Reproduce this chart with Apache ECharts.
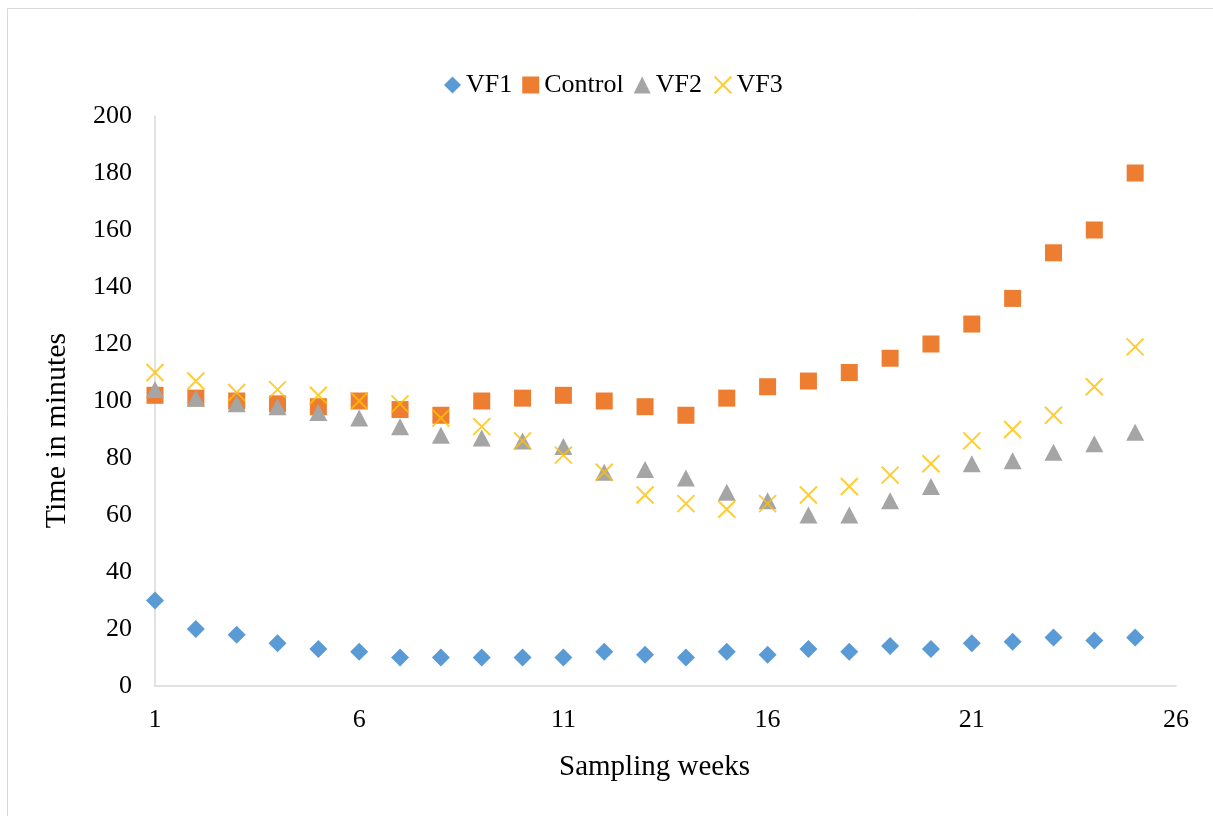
<!DOCTYPE html>
<html>
<head>
<meta charset="utf-8">
<script src="https://cdn.jsdelivr.net/npm/echarts@6/dist/echarts.min.js"></script>
<style>
  html, body { margin: 0; padding: 0; background: #fff; }
  #chart { width: 1213px; height: 816px; }
</style>
</head>
<body>
<div id="chart"></div>
<script>
// Sampling weeks 1..25
const weeks = [1,2,3,4,5,6,7,8,9,10,11,12,13,14,15,16,17,18,19,20,21,22,23,24,25];

// Time in minutes per series
const vf1     = [30,20,18,15,13,12,10,10,10,10,10,12,11,10,12,11,13,12,14,13,15,15.5,17,16,17];
const control = [102,101,100,99,98,100,97,95,100,101,102,100,98,95,101,105,107,110,115,120,127,136,152,160,180];
const vf2     = [104,101,99,98,96,94,91,88,87,86,84,75,76,73,68,65,60,60,65,70,78,79,82,85,89];
const vf3     = [110,107,103,104,102,100,99,94,91,86,81,75,67,64,62,64,67,70,74,78,86,90,95,105,119];

const seriesNames = ['VF1', 'Control', 'VF2', 'VF3'];
const seriesData = [vf1, control, vf2, vf3];
const seriesColors = ['#5B9BD5', '#ED7D31', '#A5A5A5', '#FFC000'];

const xTitle = 'Sampling weeks';
const yTitle = 'Time in minutes';

const FONT = '"Liberation Serif", "Times New Roman", serif';
const crossPath = 'path://M0,0L20,20M20,0L0,20';

function pairs(values) {
  return weeks.map((w, i) => [w, values[i]]);
}

const series = seriesNames.map((name, k) => {
  const base = {
    name: name,
    type: 'scatter',
    data: pairs(seriesData[k]),
    symbolSize: 17,
    itemStyle: { color: seriesColors[k], opacity: 1 }
  };
  if (k === 0) { base.symbol = 'diamond'; base.symbolSize = 18; }
  if (k === 1) { base.symbol = 'rect'; base.symbolSize = 17; }
  if (k === 2) { base.symbol = 'triangle'; base.symbolSize = [18, 17]; }
  if (k === 3) {
    base.symbol = crossPath;
    base.symbolSize = 17;
    base.itemStyle = { color: 'none', borderColor: seriesColors[k], borderWidth: 2 };
  }
  return base;
});

const chart = echarts.init(document.getElementById('chart'), null, { renderer: 'canvas' });
chart.setOption({
  backgroundColor: '#fff',
  animation: false,
  textStyle: { fontFamily: FONT },
  graphic: [
    {
      type: 'rect',
      shape: { x: 7.5, y: 8.5, width: 1230, height: 830 },
      style: { fill: 'none', stroke: '#D9D9D9', lineWidth: 1 },
      silent: true
    },
    {
      type: 'text',
      x: 654.5, y: 767,
      style: { text: xTitle, font: '29px ' + FONT, fill: '#000', textAlign: 'center', textVerticalAlign: 'middle' },
      silent: true
    },
    {
      type: 'text',
      x: 57, y: 430.5,
      rotation: Math.PI / 2,
      style: { text: yTitle, font: '30px ' + FONT, fill: '#000', textAlign: 'center', textVerticalAlign: 'middle' },
      silent: true
    }
  ],
  legend: {
    top: 67,
    left: 439,
    itemWidth: 17,
    itemHeight: 17,
    itemGap: 10,
    textStyle: { fontFamily: FONT, fontSize: 26, color: '#000' },
    data: seriesNames
  },
  grid: { left: 155, right: 37, top: 116, bottom: 130 },
  xAxis: {
    type: 'value',
    min: 1, max: 26, interval: 5,
    axisLine: { show: true, lineStyle: { color: '#D9D9D9', width: 1.5 } },
    axisTick: { show: false },
    splitLine: { show: false },
    axisLabel: { fontFamily: FONT, fontSize: 26, color: '#000', margin: 21 }
  },
  yAxis: {
    type: 'value',
    min: 0, max: 200, interval: 20,
    axisLine: { show: true, lineStyle: { color: '#D9D9D9', width: 1.5 } },
    axisTick: { show: false },
    splitLine: { show: false },
    axisLabel: { fontFamily: FONT, fontSize: 26, color: '#000', margin: 23 }
  },
  series: series
});
</script>
</body>
</html>
